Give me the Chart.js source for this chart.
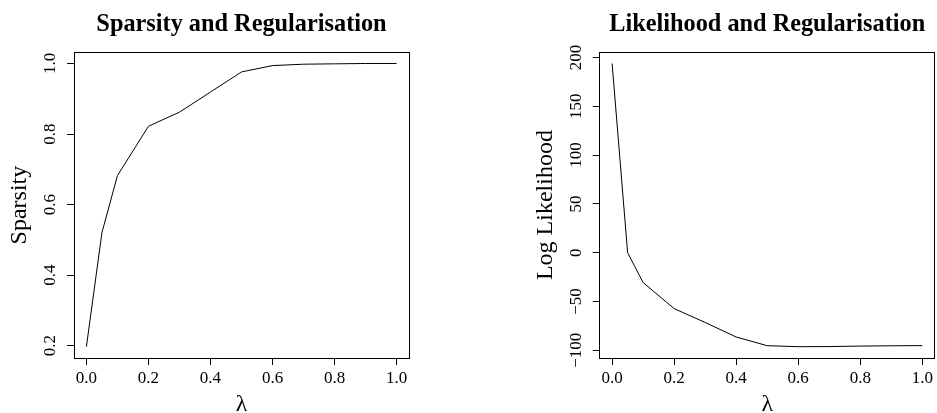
<!DOCTYPE html>
<html>
<head>
<meta charset="utf-8">
<title>Sparsity and Likelihood vs Regularisation</title>
<script src="https://cdn.jsdelivr.net/npm/chart.js@4/dist/chart.umd.min.js"></script>
<style>
  html, body { margin: 0; padding: 0; background: #fff; overflow: hidden; }
  #wrap { position: relative; width: 937px; height: 413px; }
  canvas { position: absolute; top: 0; }
  #c1 { left: 0; }
  #c2 { left: 468px; }
</style>
</head>
<body>
<div id="wrap">
  <canvas id="c1" width="468" height="413"></canvas>
  <canvas id="c2" width="469" height="413"></canvas>
</div>
<script>
// Regularisation strengths (lambda) at which the model was fitted
const lambdas = [0, 0.05, 0.1, 0.2, 0.3, 0.4, 0.5, 0.6, 0.7, 0.8, 0.9, 1.0];

// Fraction of zero coefficients at each lambda
const sparsity = [0.197, 0.52, 0.682, 0.822, 0.862, 0.919, 0.976, 0.994, 0.998, 0.999, 1.0, 1.0];

// Log likelihood of the fit at each lambda
const logLik = [193.9, 0.0, -30.6, -57.3, -71.5, -86.4, -95.3, -96.3, -96.2, -95.7, -95.4, -95.2];

// Axis ticks
const xTicks = [0, 0.2, 0.4, 0.6, 0.8, 1.0];
const xTickLabels = ['0.0', '0.2', '0.4', '0.6', '0.8', '1.0'];
const sparsityTicks = [0.2, 0.4, 0.6, 0.8, 1.0];
const sparsityTickLabels = ['0.2', '0.4', '0.6', '0.8', '1.0'];
const logLikTicks = [-100, -50, 0, 50, 100, 150, 200];
const logLikTickLabels = ['\u2212100', '\u221250', '0', '50', '100', '150', '200'];

const SERIF = "'Liberation Serif', 'Times New Roman', Times, serif";
const TICK_SIZE = 17;

// R-style range: data extent widened by 4% on each side
function paddedRange(values) {
  const lo = Math.min(...values), hi = Math.max(...values);
  const pad = (hi - lo) * 0.04;
  return { min: lo - pad, max: hi + pad };
}

// Draws the full frame around the plot area and the vertical (rotated) y tick labels
const frameAxis = {
  id: 'frameAxis',
  afterDraw(chart, args, opts) {
    const { ctx, chartArea } = chart;
    const y = chart.scales.y;
    ctx.save();
    ctx.fillStyle = '#000';
    ctx.font = TICK_SIZE + 'px ' + SERIF;
    ctx.textAlign = 'center';
    ctx.textBaseline = 'alphabetic';
    y.ticks.forEach((t, i) => {
      const py = y.getPixelForValue(t.value);
      ctx.save();
      ctx.translate(chartArea.left - opts.labelOffset, py);
      ctx.rotate(-Math.PI / 2);
      ctx.fillText(opts.labels[i], 0, 0);
      ctx.restore();
    });
    ctx.strokeStyle = '#000';
    ctx.lineWidth = 1;
    const l = Math.floor(chartArea.left) + 0.5;
    const t = Math.floor(chartArea.top) + 0.5;
    const r = Math.floor(chartArea.right) + 0.5;
    const b = Math.floor(chartArea.bottom) + 0.5;
    ctx.strokeRect(l, t, r - l, b - t);
    ctx.restore();
  }
};

function makePanel(canvasId, opts) {
  const xr = paddedRange(lambdas);
  const yr = paddedRange(opts.values);
  return new Chart(document.getElementById(canvasId), {
    type: 'line',
    data: {
      datasets: [{
        data: lambdas.map((x, i) => ({ x: x, y: opts.values[i] })),
        borderColor: '#000',
        borderWidth: 1,
        pointRadius: 0,
        tension: 0,
        fill: false
      }]
    },
    options: {
      responsive: false,
      maintainAspectRatio: false,
      animation: false,
      events: [],
      layout: { autoPadding: false, padding: { left: 0, top: 0, bottom: 0, right: opts.rightPad } },
      plugins: {
        legend: { display: false },
        tooltip: { enabled: false },
        title: {
          display: true,
          text: opts.title,
          fullSize: false,
          color: '#000',
          font: { family: SERIF, size: 24.3, weight: 'bold' },
          padding: { top: 10, bottom: 13 }
        },
        frameAxis: { labels: opts.tickLabels, labelOffset: 18.7 }
      },
      scales: {
        x: {
          type: 'linear',
          position: 'bottom',
          min: xr.min,
          max: xr.max,
          afterBuildTicks: s => { s.ticks = xTicks.map(v => ({ value: v })); },
          afterFit: s => { s.height = 55; },
          border: { display: false },
          grid: { display: true, drawOnChartArea: false, drawTicks: true, tickLength: 7, color: '#000', lineWidth: 1 },
          ticks: {
            autoSkip: false,
            maxRotation: 0,
            minRotation: 0,
            padding: 3.6,
            color: '#000',
            font: { family: SERIF, size: TICK_SIZE },
            callback: (v, i) => xTickLabels[i]
          },
          title: {
            display: true,
            text: '\u03bb',
            color: '#000',
            font: { family: SERIF, size: 24 },
            padding: { top: 0, bottom: -6 }
          }
        },
        y: {
          type: 'linear',
          position: 'left',
          min: yr.min,
          max: yr.max,
          afterBuildTicks: s => { s.ticks = opts.ticks.map(v => ({ value: v })); },
          afterFit: s => { s.width = opts.axisWidth; },
          border: { display: false },
          grid: { display: true, drawOnChartArea: false, drawTicks: true, tickLength: 7, color: '#000', lineWidth: 1 },
          ticks: { display: false },
          title: {
            display: true,
            text: opts.yTitle,
            color: '#000',
            font: { family: SERIF, size: 24 },
            padding: { top: opts.axisWidth - 54 - 14.4, bottom: 0 }
          }
        }
      }
    },
    plugins: [frameAxis]
  });
}

makePanel('c1', {
  title: 'Sparsity and Regularisation',
  yTitle: 'Sparsity',
  values: sparsity,
  ticks: sparsityTicks,
  tickLabels: sparsityTickLabels,
  axisWidth: 74,
  rightPad: 59
});

makePanel('c2', {
  title: 'Likelihood and Regularisation',
  yTitle: 'Log Likelihood',
  values: logLik,
  ticks: logLikTicks,
  tickLabels: logLikTickLabels,
  axisWidth: 131.7,
  rightPad: 2.3
});
</script>
</body>
</html>
